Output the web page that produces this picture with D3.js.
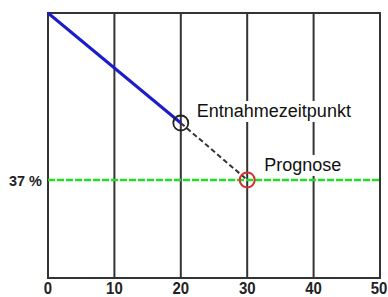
<!DOCTYPE html>
<html><head><meta charset="utf-8">
<script src="https://cdn.jsdelivr.net/npm/d3@7"></script>
<style>body{margin:0;background:#fff}svg{display:block}</style>
</head><body>
<svg id="c" width="388" height="297"></svg>
<script>
const xTicks = [0, 10, 20, 30, 40, 50];
const measuredX = [0, 20];
const measuredY = [100, 58.5];
const forecastX = [20, 30];
const forecastY = [58.5, 37];
const levelValue = 37;
const levelLabel = "37 %";
const labelSample = "Entnahmezeitpunkt";
const labelForecast = "Prognose";

const svg = d3.select("#c");
const x = d3.scaleLinear().domain([0, 50]).range([48, 380]);
const y = d3.scaleLinear().domain([0, 100]).range([278, 13]);
const gridColor = "#333";

// vertical grid lines
svg.append("g").selectAll("line").data(xTicks).join("line")
  .attr("x1", d => x(d)).attr("x2", d => x(d))
  .attr("y1", y(100)).attr("y2", y(0))
  .attr("stroke", gridColor).attr("stroke-width", 2);
// top and bottom
[0, 100].forEach(v => svg.append("line")
  .attr("x1", x(0) - 1).attr("x2", x(50) + 1)
  .attr("y1", y(v)).attr("y2", y(v))
  .attr("stroke", gridColor).attr("stroke-width", 2));

// x tick labels
svg.append("g").selectAll("text").data(xTicks).join("text")
  .attr("x", d => x(d) - (d === 50 ? 1 : 0)).attr("y", 293.5)
  .attr("text-anchor", "middle")
  .attr("font-family", "Liberation Sans, Arial, sans-serif")
  .attr("font-weight", "bold").attr("font-size", 16).attr("fill", "#222")
  .attr("textLength", d => String(d).length * 8.3).attr("lengthAdjust", "spacingAndGlyphs")
  .text(d => d);

// level line
svg.append("line")
  .attr("x1", x(0)).attr("x2", x(50))
  .attr("y1", y(levelValue)).attr("y2", y(levelValue))
  .attr("stroke", "#22dd22").attr("stroke-width", 2.5)
  .attr("stroke-dasharray", "7,2");
svg.append("text")
  .attr("x", 42).attr("y", y(levelValue) + 6)
  .attr("text-anchor", "end")
  .attr("font-family", "Liberation Sans, Arial, sans-serif")
  .attr("font-weight", "bold").attr("font-size", 15).attr("fill", "#222")
  .attr("textLength", 33).attr("lengthAdjust", "spacingAndGlyphs")
  .text(levelLabel);

const line = d3.line().x(d => x(d[0])).y(d => y(d[1]));
// measured
svg.append("path")
  .attr("d", line(d3.zip(measuredX, measuredY)))
  .attr("fill", "none").attr("stroke", "#1c1ccc").attr("stroke-width", 3);
// forecast
svg.append("path")
  .attr("d", line(d3.zip(forecastX, forecastY)))
  .attr("fill", "none").attr("stroke", "#333").attr("stroke-width", 2)
  .attr("stroke-dasharray", "5,3");

// labels with white backgrounds
function label(txt, tx, ty) {
  const t = svg.append("text")
    .attr("x", tx).attr("y", ty)
    .attr("font-family", "Liberation Sans, Arial, sans-serif")
    .attr("font-size", 18).attr("fill", "#111").text(txt);
  const b = t.node().getBBox();
  svg.insert("rect", () => t.node())
    .attr("x", b.x - 2).attr("y", b.y).attr("width", b.width + 4).attr("height", b.height + 1)
    .attr("fill", "#fff");
}
label(labelSample, x(forecastX[0]) + 16, y(forecastY[0]) - 6);
label(labelForecast, x(forecastX[1]) + 17, y(forecastY[1]) - 9);

// circles
svg.append("circle").attr("cx", x(forecastX[0])).attr("cy", y(forecastY[0])).attr("r", 7.5)
  .attr("fill", "none").attr("stroke", "#222").attr("stroke-width", 1.8);
svg.append("circle").attr("cx", x(forecastX[1])).attr("cy", y(forecastY[1])).attr("r", 7.5)
  .attr("fill", "none").attr("stroke", "#d43030").attr("stroke-width", 2);
</script>
</body></html>
